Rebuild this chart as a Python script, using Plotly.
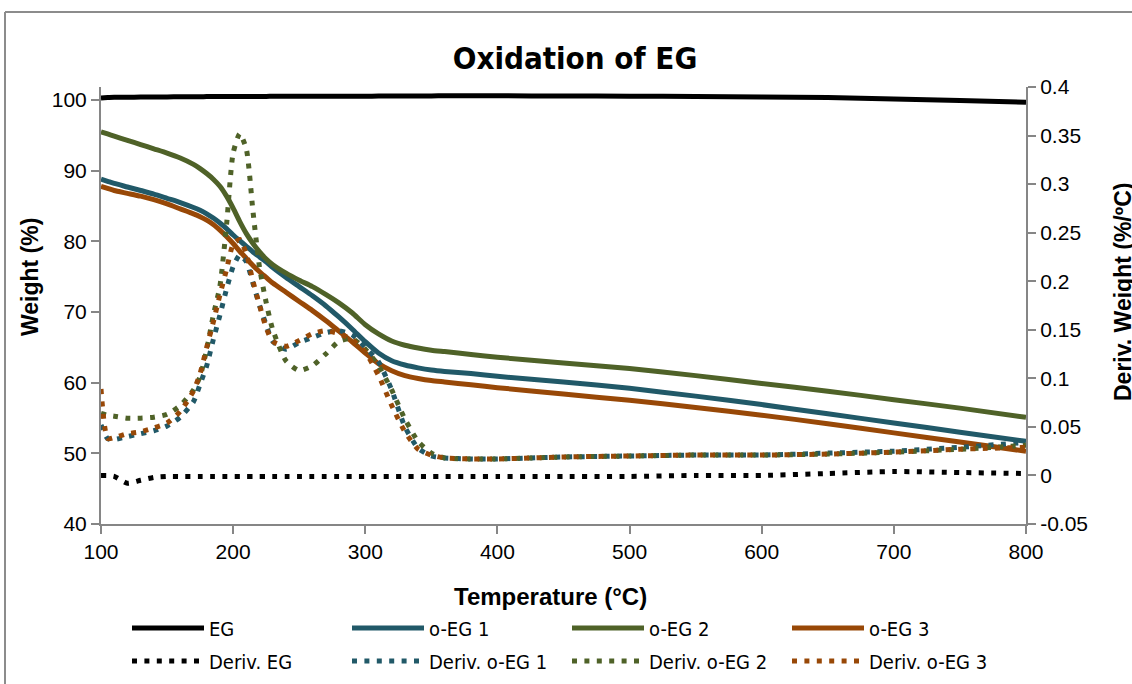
import plotly.graph_objects as go

temperature = [100, 105, 110, 120, 130, 140, 150, 160, 170, 175, 180, 185, 190, 195, 200, 205,
               210, 215, 220, 225, 230, 240, 250, 260, 270, 280, 290, 300, 310, 320, 330, 340,
               350, 360, 380, 400, 450, 500, 550, 600, 650, 700, 750, 800]

weight_eg = [100.3, 100.35, 100.4, 100.4, 100.42, 100.45, 100.45, 100.47, 100.48, 100.48, 100.49, 100.5,
             100.5, 100.5, 100.5, 100.51, 100.51, 100.52, 100.52, 100.52, 100.53, 100.53, 100.54, 100.54,
             100.55, 100.55, 100.55, 100.55, 100.56, 100.57, 100.58, 100.58, 100.59, 100.6, 100.6, 100.6,
             100.58, 100.55, 100.5, 100.45, 100.35, 100.15, 99.95, 99.7]

weight_oeg1 = [88.8, 88.5, 88.2, 87.7, 87.2, 86.7, 86.1, 85.5, 84.8, 84.4, 83.9, 83.3, 82.6, 81.8, 80.9,
               80.1, 79.3, 78.5, 77.8, 77.1, 76.3, 74.9, 73.6, 72.3, 70.9, 69.3, 67.6, 65.8, 64.2, 63.1,
               62.5, 62.1, 61.8, 61.6, 61.3, 60.9, 60.1, 59.2, 58.1, 56.9, 55.6, 54.3, 53.0, 51.7]

weight_oeg2 = [95.5, 95.2, 94.9, 94.3, 93.7, 93.1, 92.5, 91.8, 90.9, 90.3, 89.6, 88.8, 87.8, 86.4, 84.7,
               82.8, 81.1, 79.7, 78.5, 77.5, 76.7, 75.5, 74.5, 73.6, 72.5, 71.3, 69.9, 68.2, 66.9, 65.9,
               65.3, 64.9, 64.6, 64.4, 64.0, 63.6, 62.8, 62.0, 61.0, 59.9, 58.8, 57.6, 56.4, 55.1]

weight_oeg3 = [87.8, 87.5, 87.2, 86.8, 86.4, 85.9, 85.3, 84.6, 83.9, 83.5, 83.0, 82.4, 81.6, 80.7, 79.7,
               78.6, 77.6, 76.6, 75.7, 74.9, 74.1, 72.8, 71.5, 70.2, 68.8, 67.3, 65.8, 64.2, 62.7, 61.7,
               61.0, 60.6, 60.3, 60.1, 59.7, 59.3, 58.4, 57.5, 56.5, 55.4, 54.2, 52.9, 51.6, 50.3]

deriv_eg = [0.0, 0.0, -0.001, -0.008, -0.005, -0.002, -0.001, -0.001, -0.001, -0.001, -0.001, -0.001,
            -0.001, -0.001, -0.001, -0.001, -0.001, -0.001, -0.001, -0.001, -0.001, -0.001, -0.001, -0.001,
            -0.001, -0.001, -0.001, -0.001, -0.001, -0.001, -0.001, -0.001, -0.001, -0.001, -0.001, -0.001,
            -0.001, -0.001, 0.0, 0.0, 0.002, 0.004, 0.003, 0.002]

deriv_oeg1 = [0.052, 0.038, 0.037, 0.040, 0.043, 0.046, 0.051, 0.060, 0.076, 0.094, 0.113, 0.140, 0.165,
              0.192, 0.215, 0.227, 0.220, 0.198, 0.175, 0.155, 0.138, 0.130, 0.137, 0.142, 0.147, 0.149,
              0.145, 0.132, 0.117, 0.088, 0.050, 0.028, 0.020, 0.018, 0.017, 0.017, 0.019, 0.020, 0.021,
              0.021, 0.023, 0.025, 0.029, 0.034]

deriv_oeg2 = [0.064, 0.062, 0.061, 0.059, 0.059, 0.060, 0.063, 0.072, 0.088, 0.102, 0.130, 0.165, 0.195,
              0.258, 0.332, 0.352, 0.336, 0.272, 0.214, 0.178, 0.150, 0.118, 0.108, 0.113, 0.125, 0.138,
              0.141, 0.130, 0.113, 0.088, 0.058, 0.035, 0.023, 0.018, 0.017, 0.017, 0.019, 0.020, 0.021,
              0.021, 0.022, 0.024, 0.027, 0.031]

deriv_oeg3 = [0.089, 0.038, 0.039, 0.043, 0.045, 0.049, 0.054, 0.066, 0.087, 0.105, 0.132, 0.158, 0.186,
              0.212, 0.238, 0.243, 0.228, 0.200, 0.175, 0.152, 0.138, 0.133, 0.139, 0.146, 0.149, 0.146,
              0.140, 0.127, 0.103, 0.072, 0.045, 0.027, 0.021, 0.018, 0.017, 0.017, 0.019, 0.020, 0.021,
              0.021, 0.022, 0.024, 0.027, 0.029]

x_ticks = [100, 200, 300, 400, 500, 600, 700, 800]
y_ticks = [40, 50, 60, 70, 80, 90, 100]
y2_ticks = [-0.05, 0, 0.05, 0.1, 0.15, 0.2, 0.25, 0.3, 0.35, 0.4]
y2_ticktext = ["-0.05", "0", "0.05", "0.1", "0.15", "0.2", "0.25", "0.3", "0.35", "0.4"]

colors = {"EG": "#000000", "o-EG 1": "#215968", "o-EG 2": "#4F6228", "o-EG 3": "#984807"}

weights = [("EG", weight_eg), ("o-EG 1", weight_oeg1), ("o-EG 2", weight_oeg2), ("o-EG 3", weight_oeg3)]
derivs = [("Deriv. EG", "EG", deriv_eg), ("Deriv. o-EG 1", "o-EG 1", deriv_oeg1),
          ("Deriv. o-EG 2", "o-EG 2", deriv_oeg2), ("Deriv. o-EG 3", "o-EG 3", deriv_oeg3)]

fig = go.Figure()
for name, ys in weights:
    fig.add_trace(go.Scatter(x=temperature, y=ys, name=name, mode="lines",
                             line=dict(color=colors[name], width=5, shape="spline", smoothing=0.6),
                             legend="legend"))
for name, key, ys in derivs:
    fig.add_trace(go.Scatter(x=temperature, y=ys, name=name, mode="lines", yaxis="y2",
                             line=dict(color=colors[key], width=5, dash="5px,7.4px", shape="spline", smoothing=0.6),
                             legend="legend2"))

W, H = 1132, 684
L, R, T, B = 101, 106, 87, 160
pw, ph = W - L - R, H - T - B

def px_x(p):
    return (p - L) / pw

def px_y(p):
    return (H - B - p) / ph

axis_color = "#868686"
cond = "DejaVu Sans Condensed, Liberation Sans Narrow, Arial Narrow, Liberation Sans, sans-serif"
tick_font = dict(family="Liberation Sans, Arial, sans-serif", size=21, color="#000000")
legend_font = dict(family=cond, size=20, color="#000000")

fig.update_layout(
    width=W, height=H,
    margin=dict(l=L, r=R, t=T, b=B, autoexpand=False),
    paper_bgcolor="white", plot_bgcolor="white",
    title=dict(text="<b>Oxidation of EG</b>", x=575 / W, xanchor="center",
               y=1 - 58 / H, yanchor="middle",
               font=dict(family=cond, size=31, color="#000000")),
    xaxis=dict(range=[100, 800], tickvals=x_ticks, showgrid=False, zeroline=False,
               showline=True, linecolor=axis_color, linewidth=2, ticks="outside", ticklen=8,
               tickwidth=2, tickcolor=axis_color, tickfont=tick_font),
    yaxis=dict(range=[40, 101.85], tickvals=y_ticks, showgrid=False, zeroline=False,
               showline=True, linecolor=axis_color, linewidth=2, ticks="outside", ticklen=8,
               tickwidth=2, tickcolor=axis_color, tickfont=tick_font),
    yaxis2=dict(range=[-0.05, 0.4], tickvals=y2_ticks, ticktext=y2_ticktext, overlaying="y", side="right",
                showgrid=False, zeroline=False, showline=True, linecolor=axis_color, linewidth=2,
                ticks="outside", ticklen=8, tickwidth=2, tickcolor=axis_color, tickfont=tick_font),
    legend=dict(orientation="h", x=px_x(127), xanchor="left", y=px_y(628), yanchor="middle",
                entrywidth=133, entrywidthmode="pixels", itemwidth=72, font=legend_font,
                bgcolor="rgba(0,0,0,0)", tracegroupgap=0),
    legend2=dict(orientation="h", x=px_x(127), xanchor="left", y=px_y(661), yanchor="middle",
                 entrywidth=133, entrywidthmode="pixels", itemwidth=72, font=legend_font,
                 bgcolor="rgba(0,0,0,0)", tracegroupgap=0),
    annotations=[
        dict(text="<b>Weight (%)</b>", x=px_x(30), y=px_y(277), xref="paper", yref="paper",
             textangle=-90, showarrow=False, xanchor="center", yanchor="middle",
             font=dict(family="Liberation Sans, Arial, sans-serif", size=23, color="#000000")),
        dict(text="<b>Deriv. Weight (%/ºC)</b>", x=px_x(1123), y=px_y(292), xref="paper", yref="paper",
             textangle=-90, showarrow=False, xanchor="center", yanchor="middle",
             font=dict(family="Liberation Sans, Arial, sans-serif", size=23, color="#000000")),
        dict(text="<b>Temperature (°C)</b>", x=px_x(550), y=px_y(596), xref="paper", yref="paper",
             showarrow=False, xanchor="center", yanchor="middle",
             font=dict(family="Liberation Sans, Arial, sans-serif", size=24, color="#000000")),
    ],
    shapes=[
        dict(type="line", xref="paper", yref="paper", x0=px_x(5), x1=px_x(1132), y0=px_y(12), y1=px_y(12),
             line=dict(color="#8c8c8c", width=2)),
        dict(type="line", xref="paper", yref="paper", x0=px_x(5), x1=px_x(5), y0=px_y(12), y1=px_y(684),
             line=dict(color="#8c8c8c", width=2)),
    ],
    showlegend=True,
)

fig.write_html("out.html")
